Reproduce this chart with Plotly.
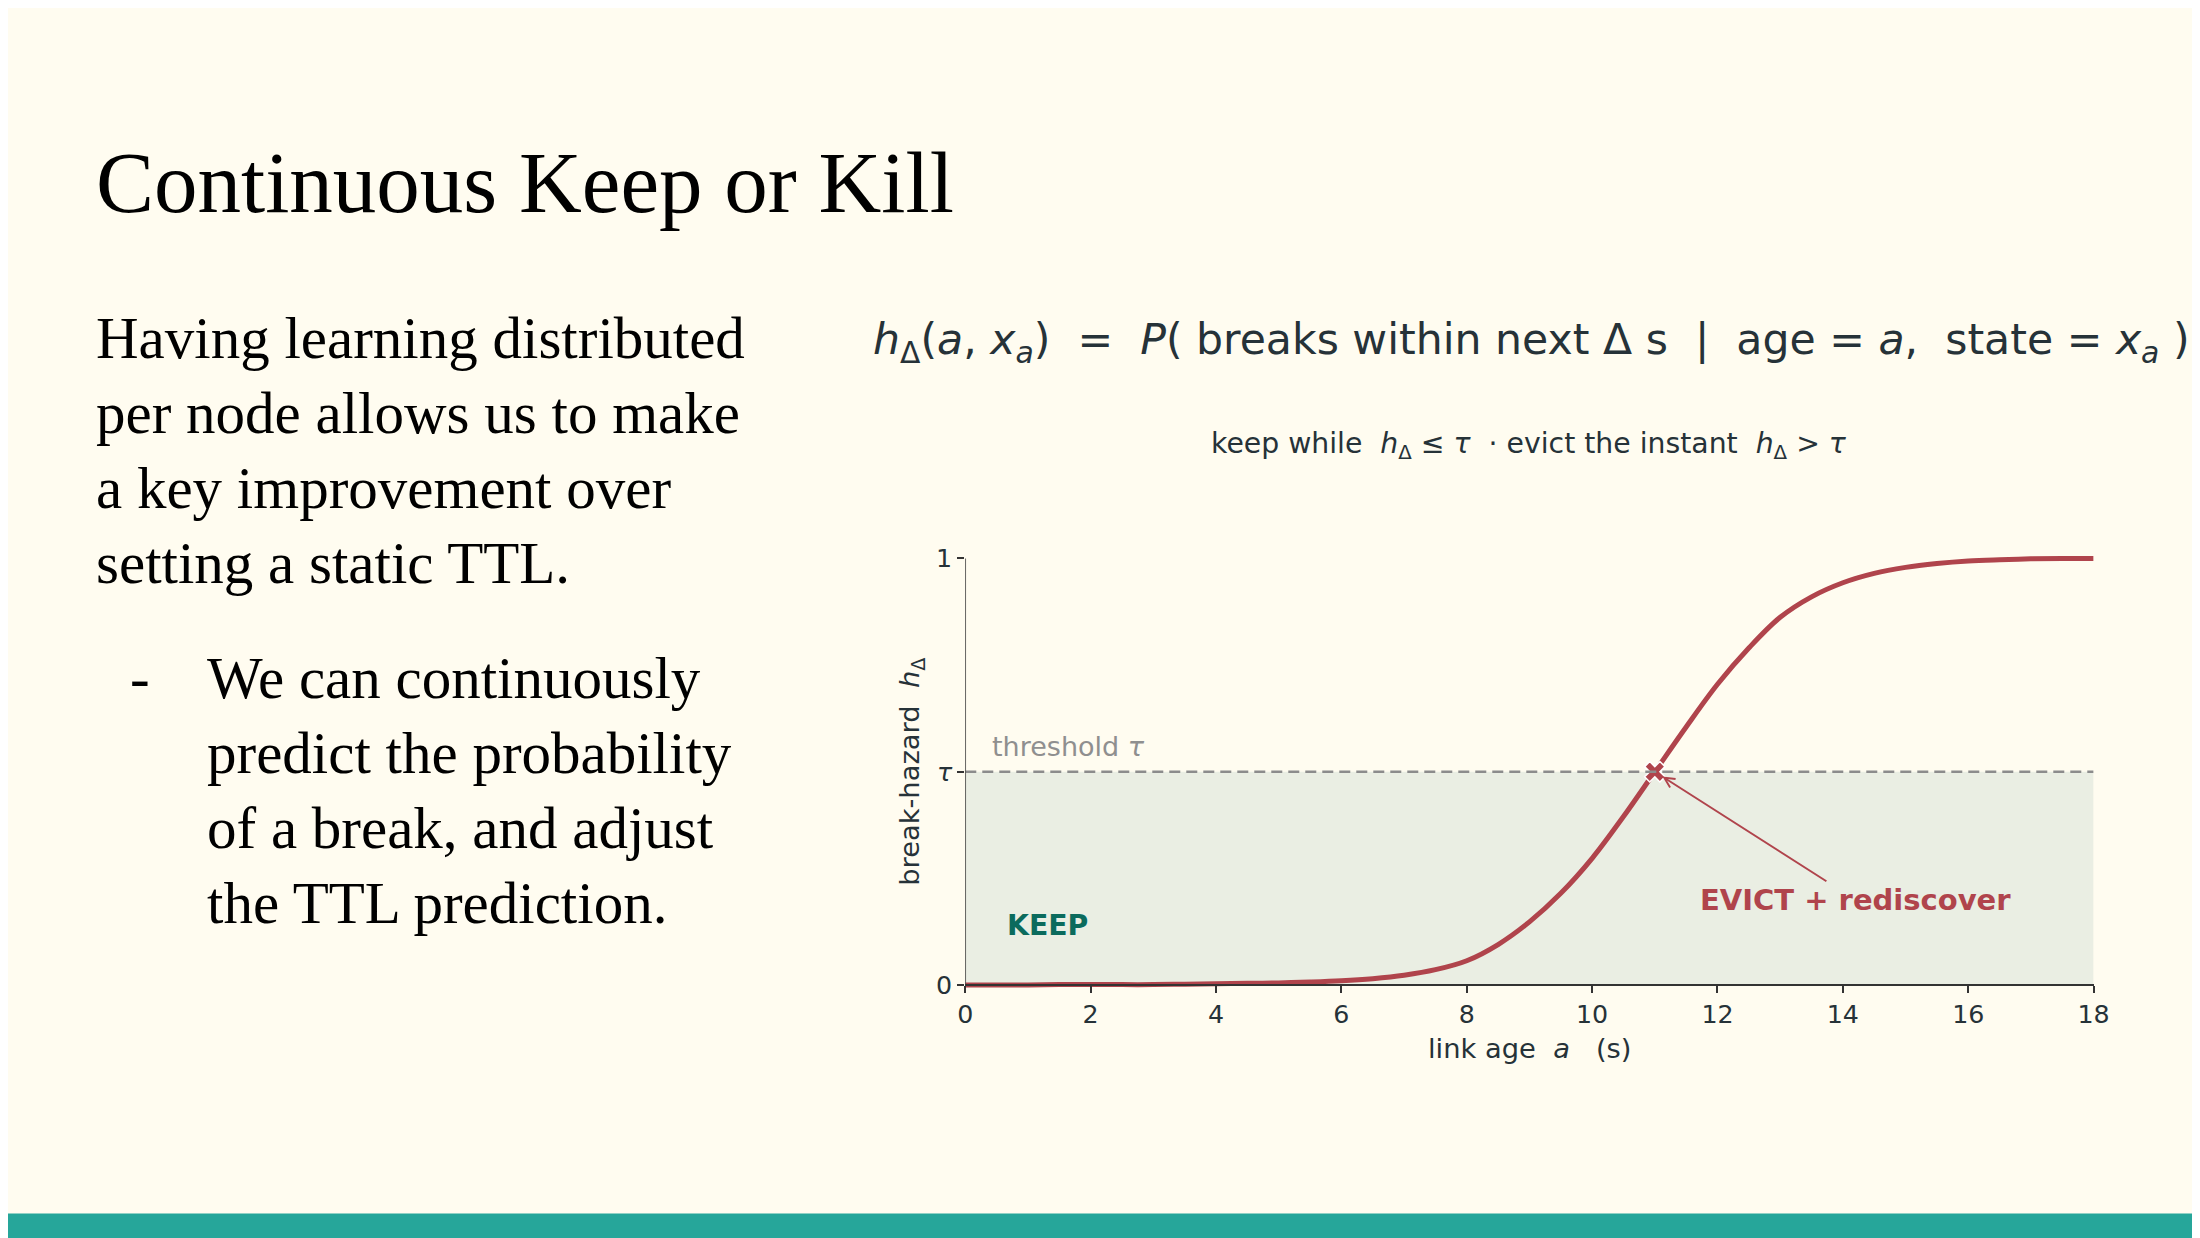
import plotly.graph_objects as go

# link age (s) and break hazard h_delta
ages = [0, 0.5, 1, 1.5, 2, 2.5, 3, 3.5, 4, 4.5, 5, 5.5, 6, 6.5, 7, 7.5, 8,
        8.5, 9, 9.5, 10, 10.5, 11, 11.5, 12, 12.5, 13, 13.5, 14, 14.5, 15,
        15.5, 16, 16.5, 17, 17.5, 18]
hazard = [0.000, 0.000, 0.000, 0.001, 0.001, 0.001, 0.001, 0.002, 0.003,
          0.004, 0.005, 0.007, 0.010, 0.015, 0.023, 0.036, 0.057, 0.095,
          0.148, 0.215, 0.297, 0.395, 0.500, 0.605, 0.705, 0.790, 0.862,
          0.910, 0.943, 0.965, 0.979, 0.988, 0.994, 0.997, 0.999, 1.000,
          1.000]

tau = 0.5
evict_age = 11.0
x_ticks = [0, 2, 4, 6, 8, 10, 12, 14, 16, 18]
y_ticks = [0, tau, 1]
y_tick_text = ["0", "<i>τ</i>", "1"]

body_lines = ["Having learning distributed", "per node allows us to make",
              "a key improvement over", "setting a static TTL."]
bullet_lines = ["We can continuously", "predict the probability",
                "of a break, and adjust", "the TTL prediction."]

W, H = 2200, 1238
# the page ends up photographed slightly shrunk and shifted; these undo it
S, OX, OY = 0.9889, 16.2, 12.4
BG = "#fffcf0"
RED = "#b0444c"
TEAL = "#0b6b5d"
INK = "#263238"
SERIF = "Liberation Serif, DejaVu Serif, serif"
SANS = "DejaVu Sans, sans-serif"


def px(x):
    # picture pixel -> paper x
    return (x - OX) / S / W


def py(y):
    # picture pixel -> paper y
    return 1 - (y - OY) / S / H


# plot box in picture pixels: x 0..18 and y 0..1
X0, X1 = 965.3, 2093.4
Y0, Y1 = 985.0, 555.5
pad = 0.008 * (Y0 - Y1)

fig = go.Figure()

fig.add_trace(go.Scatter(x=ages, y=hazard, mode="lines", line_shape="spline",
                         line=dict(color=RED, width=5), hoverinfo="skip",
                         showlegend=False))
fig.add_trace(go.Scatter(x=[evict_age], y=[tau], mode="markers",
                         marker=dict(symbol="x", size=18, color=RED,
                                     line=dict(color="white", width=1.5)),
                         cliponaxis=False, hoverinfo="skip", showlegend=False))

# keep region, threshold and spines
fig.add_shape(type="rect", x0=0, x1=18, y0=0, y1=tau, xref="x", yref="y",
              fillcolor="#eaeee3", line_width=0, layer="below")
fig.add_shape(type="line", x0=0, x1=18, y0=tau, y1=tau, xref="x", yref="y",
              line=dict(color="#8c8c8c", width=2.5, dash="11px,6px"))
fig.add_shape(type="line", x0=0, x1=0, y0=0, y1=1, xref="x", yref="y",
              line=dict(color="#333333", width=1.5))
# teal footer bar
fig.add_shape(type="rect", x0=-0.01, x1=1.01, y0=-0.01, y1=py(1215),
              xref="paper", yref="paper", fillcolor="#26a69a", line_width=0)

ann = []
ann.append(dict(text="Continuous Keep or Kill", x=px(94.6), y=py(176.8),
                xanchor="left", yanchor="middle",
                font=dict(family=SERIF, size=87, color="#000000")))
for i, line in enumerate(body_lines):
    ann.append(dict(text=line, x=px(94.6), y=py(333.3 + 75.75 * i),
                    xanchor="left", yanchor="middle",
                    font=dict(family=SERIF, size=59, color="#000000")))
for i, line in enumerate(bullet_lines):
    ann.append(dict(text=line, x=px(204.7), y=py(675.5 + 75.75 * i),
                    xanchor="left", yanchor="middle",
                    font=dict(family=SERIF, size=59, color="#000000")))
ann.append(dict(text="-", x=px(128.2), y=py(675.5), xanchor="left",
                yanchor="middle",
                font=dict(family=SERIF, size=59, color="#000000")))

formula = ("<i>h</i><sub>Δ</sub>(<i>a</i>, <i>x</i><sub><i>a</i></sub>)"
           "\u00a0\u00a0=\u00a0\u00a0<i>P</i>(\u00a0breaks within next Δ s"
           "\u00a0\u00a0|\u00a0\u00a0age\u00a0=\u00a0<i>a</i>,"
           "\u00a0\u00a0state\u00a0=\u00a0<i>x</i><sub><i>a</i></sub>\u00a0)")
ann.append(dict(text=formula, x=px(1531.3), y=py(337.3), xanchor="center",
                yanchor="middle",
                font=dict(family=SANS, size=42.6, color=INK)))
subtitle = ("keep while\u00a0\u00a0<i>h</i><sub>Δ</sub>\u00a0≤\u00a0<i>τ</i>"
            "\u00a0\u00a0·\u00a0evict the instant\u00a0\u00a0"
            "<i>h</i><sub>Δ</sub>\u00a0&gt;\u00a0<i>τ</i>")
ann.append(dict(text=subtitle, x=px(1528.6), y=py(442.1), xanchor="center",
                yanchor="middle",
                font=dict(family=SANS, size=28.3, color=INK)))

ann.append(dict(text="break-hazard\u00a0\u00a0<i>h</i><sub>Δ</sub>",
                x=px(912.1), y=py(770.2), textangle=-90, xanchor="center",
                yanchor="middle",
                font=dict(family=SANS, size=27.3, color=INK)))
ann.append(dict(text="link age\u00a0\u00a0<i>a</i>\u00a0\u00a0\u00a0(s)",
                x=px(1529.8), y=py(1048.8), xanchor="center",
                yanchor="middle",
                font=dict(family=SANS, size=27.3, color=INK)))

ann.append(dict(text="<b>KEEP</b>", x=0.63, y=0.14, xref="x", yref="y",
                xanchor="left", yanchor="middle", showarrow=False,
                font=dict(family=SANS, size=28.3, color=TEAL)))
ann.append(dict(text="threshold <i>τ</i>", x=0.4, y=0.56, xref="x", yref="y",
                xanchor="left", yanchor="middle", showarrow=False,
                font=dict(family=SANS, size=27, color="#8f8f8f")))
ann.append(dict(text="<b>EVICT + rediscover</b>", x=evict_age, y=tau,
                xref="x", yref="y", ax=14.2, ay=0.2, axref="x", ayref="y",
                showarrow=True, arrowhead=5, arrowsize=1, arrowwidth=2,
                arrowcolor=RED, standoff=9,
                font=dict(family=SANS, size=29, color=RED)))

for a in ann:
    a.setdefault("xref", "paper")
    a.setdefault("yref", "paper")
    a.setdefault("showarrow", False)

fig.update_layout(
    width=W, height=H,
    margin=dict(l=0, r=0, t=0, b=0),
    paper_bgcolor=BG, plot_bgcolor=BG,
    annotations=ann,
    xaxis=dict(domain=[px(X0), px(X1)], range=[0, 18],
               tickvals=x_ticks, ticks="outside", ticklen=7, tickwidth=1.5,
               tickcolor="#333333", showline=True, linecolor="#333333",
               linewidth=1.5, showgrid=False, zeroline=False,
               anchor="free", position=py(Y0),
               tickfont=dict(family=SANS, size=25.3, color=INK)),
    yaxis=dict(domain=[py(Y0 + pad), py(Y1 - pad)], range=[-0.008, 1.008],
               tickvals=y_ticks, ticktext=y_tick_text, ticks="outside",
               ticklen=7, tickwidth=1.5, tickcolor="#333333",
               showline=False, showgrid=False, zeroline=False,
               tickfont=dict(family=SANS, size=25.3, color=INK)),
)

fig.write_html("out.html", config={"displayModeBar": False})
